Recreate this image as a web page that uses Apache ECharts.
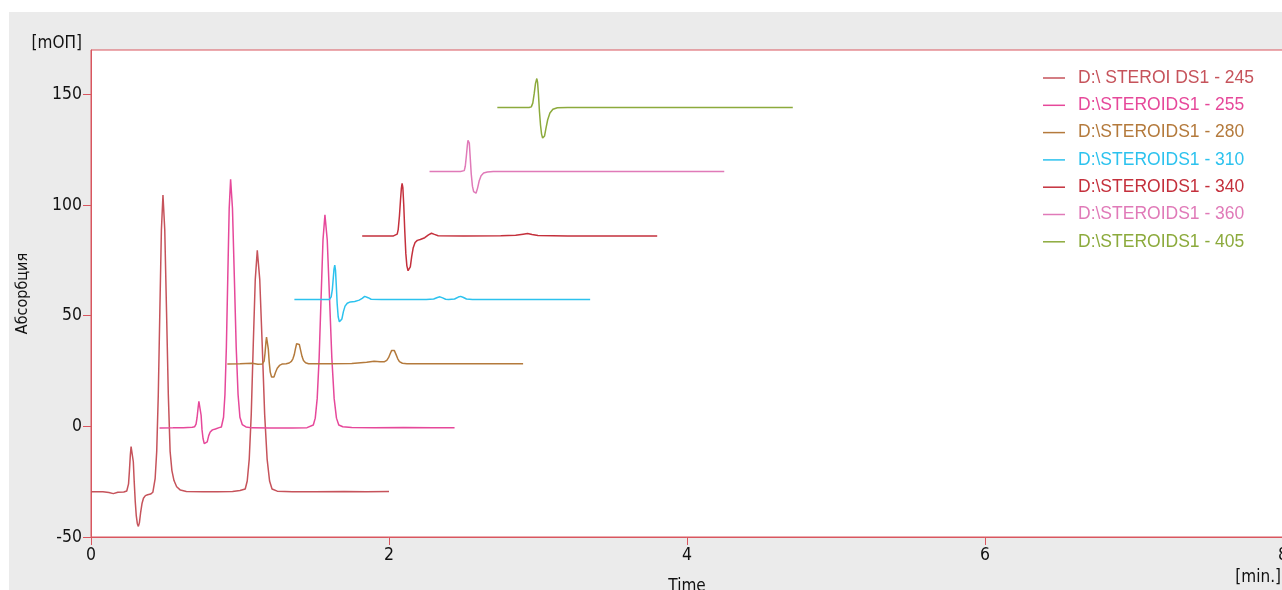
<!DOCTYPE html>
<html>
<head>
<meta charset="utf-8">
<script src="https://cdn.jsdelivr.net/npm/echarts@6/dist/echarts.min.js"></script>
<style>
html,body{margin:0;padding:0;background:#fff;width:1282px;height:590px;overflow:hidden;}
#c{position:absolute;left:9px;top:12px;width:1273px;height:578px;background:#ebebeb;}
</style>
</head>
<body>
<div id="c"></div>
<script>
// ---- data ----
const seriesNames = ['D:\\ STEROI DS1 - 245','D:\\STEROIDS1 - 255','D:\\STEROIDS1 - 280','D:\\STEROIDS1 - 310','D:\\STEROIDS1 - 340','D:\\STEROIDS1 - 360','D:\\STEROIDS1 - 405'];
const xTicks = [0, 2, 4, 6, 8];
const yTicks = [-50, 0, 50, 100, 150];

const s245 = [[0,-29.6],[0.08,-29.6],[0.12,-29.9],[0.15,-30.4],[0.18,-29.8],[0.22,-29.7],[0.24,-29.2],
 [0.245,-28.8],[0.252,-26],[0.258,-20],[0.264,-13],[0.269,-9.2],[0.273,-8.3],[0.278,-9.8],[0.284,-16],[0.29,-25],[0.297,-34],[0.304,-40.5],[0.311,-44],[0.318,-45.2],[0.325,-43.5],[0.333,-39],[0.342,-35],[0.352,-32.5],[0.365,-31.3],[0.38,-30.9],[0.40,-30.6],[0.415,-29.8],
 [0.4305,-23.6],[0.441,-11.4],[0.4515,14],[0.462,51.8],[0.4725,88.8],[0.483,104.5],[0.495,88.8],[0.507,51.8],[0.519,14],[0.531,-11.4],[0.543,-20],[0.557,-24.5],[0.575,-27.3],[0.6,-28.8],[0.64,-29.4],
 [0.75,-29.6],[0.85,-29.6],[0.95,-29.4],[1.0,-29],[1.035,-28.3],[1.0485,-24.7],[1.062,-14.8],[1.0755,5.4],[1.089,37],[1.1025,66.4],[1.116,79.5],[1.1325,66.4],[1.149,37],[1.1655,5.4],[1.182,-14.8],[1.1985,-24.7],[1.215,-28.3],[1.25,-29.3],[1.35,-29.6],[1.5,-29.6],[1.7,-29.5],[1.85,-29.6],[2.0,-29.5]];

const s255 = [[0.46,-0.8],[0.55,-0.7],[0.62,-0.6],[0.68,-0.4],[0.695,-0.2],
 [0.705,1],[0.712,4],[0.719,8.5],[0.724,11.3],[0.728,12.2],[0.733,10.5],[0.739,5],[0.745,-1.5],[0.752,-5.5],[0.76,-7.8],[0.771,-8.6],[0.78,-7],[0.79,-4.2],[0.80,-2.6],[0.815,-1.6],[0.835,-1.2],[0.86,-0.6],[0.875,-0.3],
 [0.880,0.4],[0.8895,4.1],[0.899,14.4],[0.9085,35.7],[0.918,67.4],[0.9275,98.4],[0.937,111.6],[0.9495,98.4],[0.962,67.4],[0.9745,35.7],[0.987,14.4],[0.9995,4.1],[1.015,0.8],[1.04,-0.3],[1.08,-0.7],
 [1.2,-0.8],[1.35,-0.8],[1.45,-0.6],[1.492,0.6],[1.505,3.7],[1.518,12.5],[1.531,30.7],[1.544,57.7],[1.557,84.2],[1.57,95.5],[1.5855,84.2],[1.601,57.7],[1.6165,30.7],[1.632,12.5],[1.6475,3.7],[1.663,0.6],[1.69,-0.2],[1.75,-0.5],
 [1.9,-0.6],[2.1,-0.5],[2.3,-0.6],[2.44,-0.6]];

const s280 = [[0.915,28.2],[1.0,28.3],[1.08,28.5],[1.12,28.0],[1.15,28.2],[1.162,29.5],
 [1.168,33],[1.174,38],[1.178,40.3],[1.181,40.9],[1.185,39.5],[1.19,35],[1.196,29],[1.203,24.5],[1.212,22.3],[1.22,21.9],[1.228,22.3],[1.238,24.3],[1.25,26.2],[1.265,27.5],[1.285,28.2],[1.31,28.3],[1.33,28.6],
 [1.345,29.3],[1.355,30.5],[1.364,32.3],[1.372,35.0],[1.38,37.3],[1.389,38.2],[1.398,37],[1.407,34.3],[1.416,31.6],[1.426,29.7],[1.44,28.7],[1.46,28.3],
 [1.6,28.3],[1.75,28.4],[1.85,28.9],[1.9,29.4],[1.94,29.2],[1.97,29.2],
 [1.985,29.8],[1.997,31],[2.008,32.8],[2.018,34.3],[2.026,34.8],[2.036,34.2],[2.047,32.5],[2.058,30.6],[2.07,29.2],[2.09,28.5],[2.12,28.3],[2.3,28.3],[2.5,28.3],[2.7,28.3],[2.9,28.3]];

const s310 = [[1.365,57.3],[1.45,57.3],[1.55,57.3],[1.6,57.3],[1.612,58.5],
 [1.62,62],[1.626,67],[1.631,71],[1.636,72.8],[1.641,70.5],[1.646,64],[1.652,55.5],[1.659,49.5],[1.667,47.2],[1.676,47],[1.684,48.5],[1.694,51.8],[1.705,54.3],[1.72,55.6],[1.74,56.2],[1.77,56.4],[1.8,57.0],[1.82,57.8],[1.837,58.7],[1.847,58.9],[1.86,58.1],[1.88,57.4],
 [1.95,57.3],[2.1,57.3],[2.25,57.3],[2.3,57.5],[2.325,58.2],[2.342,58.5],[2.36,58.0],[2.38,57.4],[2.4,57.3],[2.44,57.5],[2.465,58.4],[2.481,58.7],[2.5,58.2],[2.52,57.5],[2.56,57.3],[2.8,57.3],[3.1,57.3],[3.35,57.3]];

const s340 = [[1.82,86],[1.95,86],[2.03,86],[2.055,86.8],
 [2.062,89],[2.07,95],[2.077,102],[2.083,107.5],[2.088,109.7],[2.093,107.8],[2.099,100],[2.106,88],[2.113,78],[2.12,72.5],[2.128,70.3],[2.135,70.1],[2.143,72],[2.152,76.5],[2.162,80.5],[2.175,83],[2.19,84],[2.21,84.4],[2.24,85.2],[2.265,86.5],[2.285,87.2],[2.305,86.7],[2.33,86.1],
 [2.5,86],[2.75,86.1],[2.85,86.3],[2.9,86.8],[2.93,87.1],[2.96,86.7],[3.0,86.2],[3.2,86],[3.5,86],[3.8,86]];

const s360 = [[2.272,115.1],[2.4,115.1],[2.48,115.1],[2.505,115.5],
 [2.512,117.5],[2.519,122],[2.526,127],[2.53,129.2],[2.534,129.8],[2.539,128],[2.545,121.5],[2.552,114],[2.56,108.5],[2.568,106],[2.576,105.3],[2.584,105.3],[2.594,107.5],[2.605,110.8],[2.618,113.2],[2.635,114.4],[2.66,114.9],[2.7,115.1],
 [3.0,115.1],[3.5,115.1],[4.0,115.1],[4.25,115.1]];

const s405 = [[2.727,144],[2.85,144],[2.94,144],[2.955,144.3],[2.965,146],[2.975,150.5],[2.983,154.8],[2.992,157.1],[2.997,155.5],[3.003,150],[3.01,142],[3.017,136],[3.024,132],[3.031,130.2],[3.037,130],[3.044,131.2],[3.053,134.5],[3.065,138.5],[3.08,141.5],[3.1,143.2],[3.13,143.9],
 [3.2,144],[3.5,144],[4.0,144],[4.4,144],[4.71,144]];

const seriesData = [s245, s255, s280, s310, s340, s360, s405];
const seriesColors = ['#c6535b','#e6489a','#b47a3c','#2cc2ee','#c4303c','#e07ab8','#8caa3c'];

// ---- chart ----
const axisColor = '#d9565f';
const labelFont = "'DejaVu Sans Condensed','DejaVu Sans',sans-serif";
const chart = echarts.init(document.getElementById('c'), null, {renderer:'canvas'});
chart.setOption({
  animation: false,
  backgroundColor: 'transparent',
  grid: {left: 82, top: 38, right: -1, bottom: 53, containLabel: false, outerBoundsMode: 'none',
         show: true, backgroundColor: '#ffffff', borderColor: axisColor, borderWidth: 1},
  legend: {
    orient: 'vertical', left: 1034, top: 56, padding: 0,
    icon: 'rect', itemWidth: 22, itemHeight: 1.5, itemGap: 7.3,
    selectedMode: false,
    textStyle: {fontFamily: "'Liberation Sans',Arial,sans-serif", fontSize: 17.5, lineHeight: 20, padding: [0,0,0,8]},
    data: seriesNames.map((n, i) => ({name: n, itemStyle: {color: seriesColors[i]}, textStyle: {color: seriesColors[i]}}))
  },
  xAxis: {
    type: 'value', min: xTicks[0], max: xTicks[xTicks.length-1], interval: 2,
    name: 'Time', nameLocation: 'middle', nameGap: 41,
    nameTextStyle: {fontFamily: labelFont, fontSize: 17, color: '#111'},
    axisLine: {show: true, onZero: false, lineStyle: {color: axisColor, width: 1}},
    axisTick: {show: true, length: 8, lineStyle: {color: axisColor}},
    axisLabel: {margin: 9, fontFamily: labelFont, fontSize: 17.5, color: '#111'},
    splitLine: {show: false}
  },
  yAxis: {
    type: 'value', min: -50, max: 170, interval: 50,
    name: 'Абсорбция', nameLocation: 'middle', nameGap: 60, nameRotate: 90,
    nameTextStyle: {fontFamily: labelFont, fontSize: 16, color: '#111'},
    axisLine: {show: true, onZero: false, lineStyle: {color: axisColor, width: 1}},
    axisTick: {show: true, length: 8, lineStyle: {color: axisColor}, customValues: yTicks},
    axisLabel: {margin: 9, fontFamily: labelFont, fontSize: 17.5, color: '#111', customValues: yTicks},
    splitLine: {show: false}
  },
  graphic: [
    {type: 'text', x: 73, y: 32, style: {text: '[mOП]', align: 'right', verticalAlign: 'middle', font: "17px 'DejaVu Sans Condensed','DejaVu Sans',sans-serif", fill: '#111'}},
    {type: 'text', x: 1272, y: 566, style: {text: '[min.]', align: 'right', verticalAlign: 'middle', font: "17px 'DejaVu Sans Condensed','DejaVu Sans',sans-serif", fill: '#111'}}
  ],
  series: seriesData.map((d, i) => ({
    name: seriesNames[i], type: 'line', data: d,
    symbol: 'none', showSymbol: false,
    lineStyle: {color: seriesColors[i], width: 1.5},
    itemStyle: {color: seriesColors[i]},
    emphasis: {disabled: true},
    z: 2
  }))
});
</script>
</body>
</html>
